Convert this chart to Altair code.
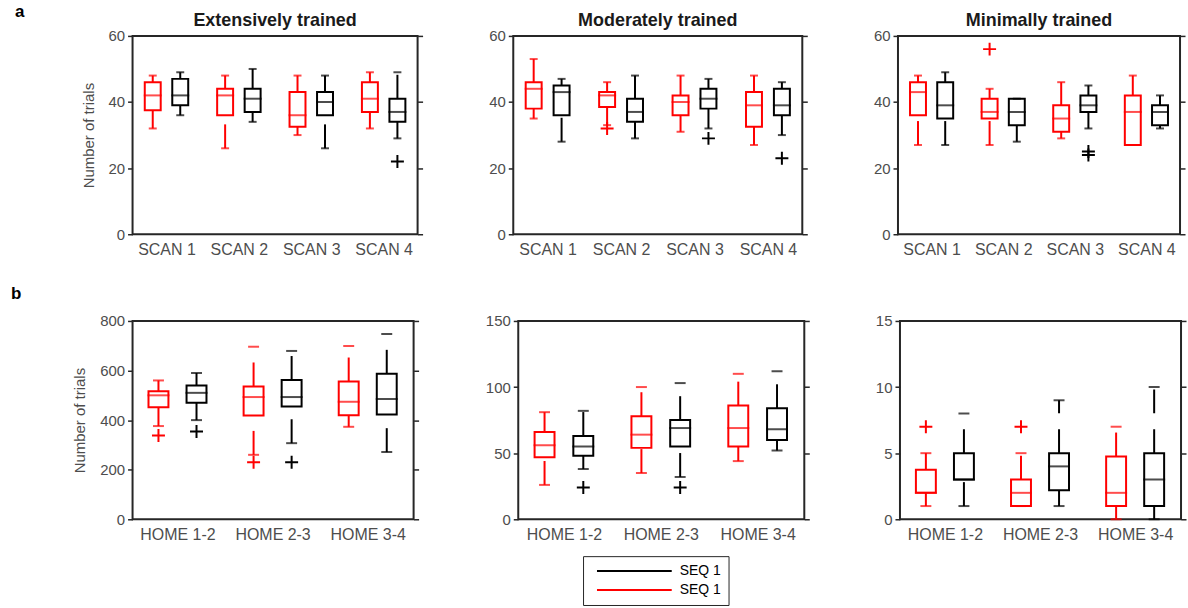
import altair as alt
import pandas as pd

FONT = "Liberation Sans"
FRAME = "#262626"
TEXT = "#4d4d4d"

SCAN_LABELS = ["SCAN 1", "SCAN 2", "SCAN 3", "SCAN 4"]
HOME_LABELS = ["HOME 1-2", "HOME 2-3", "HOME 3-4"]
TOP_TITLES = ["Extensively trained", "Moderately trained", "Minimally trained"]
SERIES = ["black", "red"]
SERIES_COLORS = ["#000000", "#ff0000"]
LEGEND_LABEL = "SEQ 1"
Y_TITLE = "Number of trials"

# Box statistics per category: [lower whisker, Q1, median, Q3, upper whisker]
ext_red = [[32, 37.5, 42, 46, 48], [26, 36, 42, 44, 48], [30, 32.5, 36, 43, 48], [32, 37, 41, 46, 49]]
ext_black = [[36, 39, 42, 47, 49], [34, 37, 41, 44, 50], [26, 36, 40, 43, 48], [29, 34, 37, 41, 49]]
mod_red = [[35, 38, 44, 46, 53], [33, 38.5, 42, 43, 46], [31, 36, 40, 42, 48], [27, 32.5, 39, 43, 48]]
mod_black = [[28, 36, 43, 45, 47], [29, 34, 37, 41, 48], [32, 38, 41, 44, 47], [30, 36, 39, 44, 46]]
min_red = [[27, 36, 43, 46, 48], [27, 35, 37, 41, 44], [29, 31, 35, 39, 46], [27, 27, 37, 42, 48]]
min_black = [[27, 35, 39, 46, 49], [28, 33, 37, 41, 41], [32, 37, 39, 42, 45], [32, 33, 37, 39, 42]]

home_ext_red = [[376, 452, 500, 516, 560], [260, 419, 493, 536, 696], [373, 420, 474, 556, 699]]
home_ext_black = [[400, 470, 510, 540, 590], [307, 455, 493, 562, 679], [271, 423, 485, 587, 747]]
home_mod_red = [[26, 47, 56, 66, 81], [35, 54, 64, 78, 100], [44, 55, 69, 86, 110]]
home_mod_black = [[38, 48, 55, 63, 82], [32, 55, 69, 75, 103], [52, 60, 68, 84, 112]]
home_min_red = [[1, 2, 2, 3.75, 5], [1, 1, 2, 3, 5], [0, 1, 2, 4.75, 7]]
home_min_black = [[1, 3, 3, 5, 8], [1, 2.2, 4, 5, 9], [0, 1, 3, 5, 10]]

# Outliers: (category index, value)
ext_out_red = []
ext_out_black = [(3, 22)]
mod_out_red = [(1, 32)]
mod_out_black = [(2, 29), (3, 23)]
min_out_red = [(1, 56)]
min_out_black = [(2, 25), (2, 24)]
home_ext_out_red = [(0, 338), (1, 230)]
home_ext_out_black = [(0, 354), (1, 230)]
home_mod_out_red = []
home_mod_out_black = [(0, 24), (1, 24)]
home_min_out_red = [(0, 7), (1, 7)]
home_min_out_black = []

PLUS = "M-1,0L1,0M0,-1L0,1"
PLOT_H = 199

LEGEND = alt.Legend(
    orient="none", legendX=452, legendY=522, title=None,
    symbolType="stroke", symbolSize=5625, symbolStrokeWidth=2, symbolOffset=6,
    clipHeight=16, labelExpr="'" + LEGEND_LABEL + "     '", labelFont=FONT, labelFontSize=14,
    labelColor="#000000", labelOffset=7, strokeColor=FRAME, fillColor="#ffffff",
    padding=7, rowPadding=3,
)
COLOR = alt.Color("series:N", scale=alt.Scale(domain=SERIES, range=SERIES_COLORS), legend=LEGEND)


def label_expr(cats):
    expr = "''"
    for i in range(len(cats) - 1, -1, -1):
        expr = "datum.value == %d ? '%s' : (%s)" % (i + 1, cats[i], expr)
    return expr


def panel(cats, red, black, out_red, out_black, ymax, ystep, width, title=None,
          ytitle=None, tag=None, tag_dx=-118, tag_dy=-19, box_w=16, cap_w=8, off=0.19,
          xdom=(0.6, 4.4)):
    rows = []
    for i in range(len(cats)):
        for s, st, o in (("red", red[i], -off), ("black", black[i], off)):
            lo, q1, md, q3, hi = st
            rows.append(dict(series=s, pos=i + 1 + o, lo=lo, q1=q1, med=md, q3=q3, hi=hi))
    bdf = pd.DataFrame(rows)
    orows = [dict(series="red", pos=i + 1 - off, val=v) for i, v in out_red] + \
            [dict(series="black", pos=i + 1 + off, val=v) for i, v in out_black]
    odf = pd.DataFrame(orows, columns=["series", "pos", "val"])

    xscale = alt.Scale(domain=list(xdom), nice=False, zero=False)
    xaxis = alt.Axis(values=list(range(1, len(cats) + 1)), labelExpr=label_expr(cats),
                     title=None, ticks=False, domain=False, grid=False, labelPadding=7,
                     labelFontSize=16, labelFont=FONT, labelColor=TEXT, labelOverlap=False)
    yscale = alt.Scale(domain=[0, ymax], nice=False, zero=True)
    yvals = list(range(0, ymax + 1, ystep))
    common = dict(values=yvals, grid=False, domain=False, tickSize=5, tickWidth=1.5,
                  tickColor=FRAME, labelFont=FONT, labelFontSize=15, labelColor=TEXT,
                  labelPadding=3)
    left_axis = alt.Axis(orient="left", title=ytitle, titleFont=FONT, titleFontSize=15,
                         titleFontWeight="normal", titleColor=TEXT, titlePadding=12, **common)
    right_axis = alt.Axis(orient="right", labels=False, title=None, **common)

    X = alt.X("pos:Q", scale=xscale, axis=xaxis)
    base = alt.Chart(bdf)
    upper = base.mark_rule(strokeWidth=2, strokeDash=[24, 16]).encode(
        x=X, y=alt.Y("q3:Q", scale=yscale, axis=right_axis), y2="hi:Q", color=COLOR)
    lower = base.mark_rule(strokeWidth=2, strokeDash=[24, 16]).encode(
        x=X, y=alt.Y("lo:Q", scale=yscale, axis=left_axis), y2="q1:Q", color=COLOR)
    box = base.mark_bar(filled=False, size=box_w, strokeWidth=2).encode(
        x=X, y=alt.Y("q1:Q", scale=yscale, axis=None), y2="q3:Q", color=COLOR)
    med = base.mark_tick(orient="horizontal", size=box_w + 2, thickness=2).encode(
        x=X, y=alt.Y("med:Q", scale=yscale, axis=None), color=COLOR)
    cap_hi = base.mark_tick(orient="horizontal", size=cap_w, thickness=2).encode(
        x=X, y=alt.Y("hi:Q", scale=yscale, axis=None), color=COLOR)
    cap_lo = base.mark_tick(orient="horizontal", size=cap_w, thickness=2).encode(
        x=X, y=alt.Y("lo:Q", scale=yscale, axis=None), color=COLOR)
    layers = [upper, lower, box, med, cap_hi, cap_lo]
    if len(odf):
        outl = alt.Chart(odf).mark_point(shape=PLUS, filled=False, size=169, strokeWidth=2,
                                         opacity=1).encode(
            x=X, y=alt.Y("val:Q", scale=yscale, axis=None), color=COLOR)
        layers.append(outl)
    if title:
        tt = alt.Chart(pd.DataFrame({"t": [title]})).mark_text(
            font=FONT, fontSize=18, fontWeight="bold", color="#1a1a1a", align="center",
            baseline="alphabetic").encode(text="t:N", x=alt.value(width / 2), y=alt.value(-10))
        layers.append(tt)
    if tag:
        t = alt.Chart(pd.DataFrame({"t": [tag]})).mark_text(
            font=FONT, fontSize=17, fontWeight="bold", color="#000000", align="left",
            baseline="alphabetic").encode(text="t:N", x=alt.value(tag_dx), y=alt.value(tag_dy))
        layers.append(t)
    return alt.layer(*layers).properties(width=width, height=PLOT_H)


TOP_WIDTHS = [286, 290, 283]
BOT_WIDTHS = [282, 287, 282]
top_specs = [(ext_red, ext_black, ext_out_red, ext_out_black),
             (mod_red, mod_black, mod_out_red, mod_out_black),
             (min_red, min_black, min_out_red, min_out_black)]
top = []
for k, (r, b, orr, ob) in enumerate(top_specs):
    top.append(panel(SCAN_LABELS, r, b, orr, ob, 60, 20, TOP_WIDTHS[k], title=TOP_TITLES[k],
                     ytitle=Y_TITLE if k == 0 else None, tag="a" if k == 0 else None,
                     tag_dx=-118, tag_dy=-19))

bot_specs = [(home_ext_red, home_ext_black, home_ext_out_red, home_ext_out_black, 800, 200),
             (home_mod_red, home_mod_black, home_mod_out_red, home_mod_out_black, 150, 50),
             (home_min_red, home_min_black, home_min_out_red, home_min_out_black, 15, 5)]
bot = []
for k, (r, b, orr, ob, ymax, ystep) in enumerate(bot_specs):
    bot.append(panel(HOME_LABELS, r, b, orr, ob, ymax, ystep, BOT_WIDTHS[k],
                     ytitle=Y_TITLE if k == 0 else None, tag="b" if k == 0 else None,
                     tag_dx=-122, tag_dy=-22, box_w=20, cap_w=11, off=0.2, xdom=(0.58, 3.43)))

row1 = alt.hconcat(*top, spacing=63).resolve_scale(color="shared")
row2 = alt.hconcat(*bot, spacing=63).resolve_scale(color="shared")
chart = alt.vconcat(row1, row2, spacing=26).resolve_scale(color="shared").properties(
    padding={"left": 10, "top": 1, "right": 0, "bottom": 2}, background="#ffffff"
).configure_view(stroke=FRAME, strokeWidth=2)

chart.save("out.html", embed_options={"renderer": "svg", "actions": False})
